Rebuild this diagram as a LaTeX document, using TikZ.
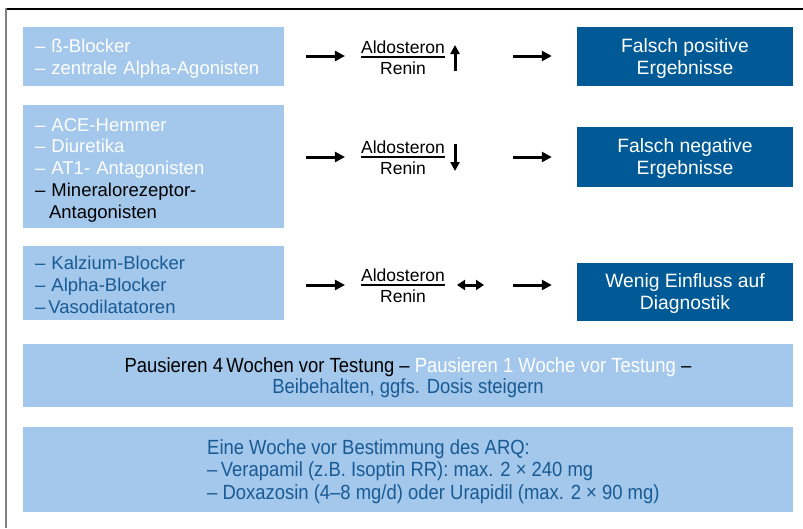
\documentclass[tikz,border=0pt]{standalone}
\usepackage{fontspec}
\setmainfont{Liberation Sans}
\newfontfamily\condfont[FakeStretch=0.9]{Liberation Sans}
\usetikzlibrary{arrows.meta}
\definecolor{lightbx}{HTML}{A3C8EB}
\definecolor{darkbx}{HTML}{015A96}
\definecolor{txtblue}{HTML}{1A5A94}
\definecolor{framegray}{HTML}{808080}
\tikzset{
  x=1pt, y=-1pt,
  listbox/.style={fill=lightbx, text=white, inner xsep=12pt, inner ysep=0pt,
    text width=237pt, align=left, minimum height=#1, anchor=center,
    font=\fontsize{18.5}{21.75}\selectfont},
  resbox/.style={fill=darkbx, text=white, inner sep=0pt, minimum width=216pt,
    minimum height=#1, align=center, font=\fontsize{19.3}{22}\selectfont},
  widebox/.style={fill=lightbx, inner sep=0pt, minimum width=770pt, minimum height=#1},
  fracnode/.style={inner sep=0pt, font=\fontsize{17.5}{20}\selectfont},
  flow/.style={line width=3pt, -{Triangle[length=10pt,width=10pt]}},
  indic/.style={line width=3pt, -{Triangle[length=9pt,width=9pt]}},
  indicboth/.style={line width=3pt, {Triangle[length=8pt,width=10pt]}-{Triangle[length=8pt,width=10pt]}},
}
\newcommand{\fracAR}{\setlength{\arrayrulewidth}{1.2pt}\begin{tabular}{@{}c@{}}Aldosteron\\[-3pt]\hline\rule{0pt}{17pt}Renin\end{tabular}}
\begin{document}
\begin{tikzpicture}
\useasboundingbox (0,0) rectangle (803,528);
\fill[white] (0,0) rectangle (803,528);
% frame
\draw[line width=1.5pt, black] (6,9) -- (803,9);
\draw[line width=2.5pt, framegray] (6,8.3) -- (6,528);

% row coordinates for the arrows
\coordinate (r1) at (0,56);
\coordinate (r2) at (0,157);
\coordinate (r3) at (0,285);

% row 1
\node[listbox=59pt] (l1) at (153.5,56.5) {\rule{0pt}{18pt}– ß-Blocker\\– zentrale Alpha-Agonisten};
\node[fracnode] (f1) at (403,60) {\fracAR};
\node[resbox=59pt] (d1) at (685,56.5) {\rule{0pt}{17.5pt}Falsch positive\\Ergebnisse};
\coordinate (u1a) at (455,71);
\coordinate (u1b) at (455,45);

% row 2
\node[listbox=123pt] (l2) at (153.5,166.5) {\rule{0pt}{20pt}– ACE-Hemmer\\– Diuretika\\– AT1- Antagonisten\\{\color{black}– Mineralorezeptor-}\\{\color{black}\hspace*{14pt}Antagonisten}};
\node[fracnode] (f2) at (403,160) {\fracAR};
\node[resbox=60pt] (d2) at (685,157) {\rule{0pt}{17.5pt}Falsch negative\\Ergebnisse};
\coordinate (u2a) at (455,144);
\coordinate (u2b) at (455,171);

% row 3
\node[listbox=74pt, text=txtblue] (l3) at (153.5,283) {\rule{0pt}{17.5pt}– Kalzium-Blocker\\– Alpha-Blocker\\–\,Vasodilatatoren};
\node[fracnode] (f3) at (403,288) {\fracAR};
\node[resbox=58pt] (d3) at (685,292) {\rule{0pt}{17.5pt}Wenig Einfluss auf\\Diagnostik};
\coordinate (u3a) at (457,285);
\coordinate (u3b) at (484,285);

% arrows
\draw[flow, shorten <=22pt, shorten >=16pt] (l1.east |- r1) -- (f1.west |- r1);
\draw[flow, shorten <=68pt, shorten >=25pt] (f1.east |- r1) -- (d1.west |- r1);
\draw[indic] (u1a) -- (u1b);

\draw[flow, shorten <=22pt, shorten >=16pt] (l2.east |- r2) -- (f2.west |- r2);
\draw[flow, shorten <=68pt, shorten >=25pt] (f2.east |- r2) -- (d2.west |- r2);
\draw[indic] (u2a) -- (u2b);

\draw[flow, shorten <=22pt, shorten >=16pt] (l3.east |- r3) -- (f3.west |- r3);
\draw[flow, shorten <=68pt, shorten >=25pt] (f3.east |- r3) -- (d3.west |- r3);
\draw[indicboth] (u3a) -- (u3b);

% bottom boxes
\node[widebox=63pt] (b1) at (408,375.5) {};
\node[align=center, inner sep=0pt, font=\condfont\fontsize{20.5}{21}\selectfont] (t1) at (408,378)
  {{\color{black}Pausieren 4\,Wochen vor Testung –} {\color{white}Pausieren 1 Woche vor Testung} {\color{black}–}\\
   {\color{txtblue}Beibehalten, ggfs. Dosis steigern}};
\node[widebox=85pt] (b2) at (408,469.5) {};
\node[align=left, anchor=west, inner sep=0pt, text=txtblue, font=\condfont\fontsize{20.5}{22.2}\selectfont] (t2) at (207,471.5)
  {Eine Woche vor Bestimmung des ARQ:\\–\,Verapamil (z.B. Isoptin RR): max. 2 × 240 mg\\– Doxazosin (4–8 mg/d) oder Urapidil (max. 2 × 90 mg)};
\end{tikzpicture}
\end{document}
